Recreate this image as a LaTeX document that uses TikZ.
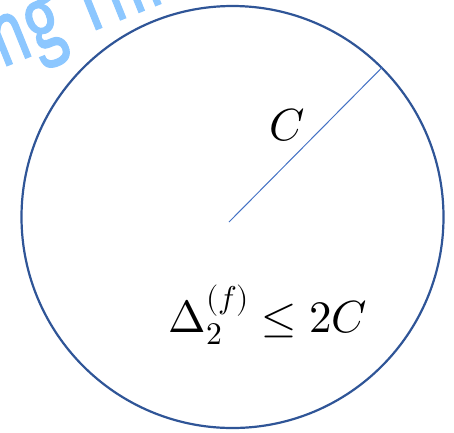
\documentclass[tikz,border=0pt]{standalone}
\usepackage{fontspec}
\usepackage{unicode-math}
\setmathfont{Latin Modern Math}
\newfontfamily\handfont[FakeBold=1.5]{Fira Sans}
\definecolor{circblue}{RGB}{47,85,151}
\definecolor{radblue}{RGB}{68,114,196}
\definecolor{handblue}{RGB}{140,199,255}
\begin{document}
\begin{tikzpicture}[x=1pt,y=-1pt,
  rim/.style={draw=circblue,line width=2.2pt},
  radius line/.style={draw=radblue,line width=1pt},
  mathlabel/.style={inner sep=0pt,font=\fontsize{45}{52}\selectfont},
  annot/.style={inner sep=0pt,text=handblue,font=\handfont\fontsize{90}{96}\selectfont}]
\useasboundingbox (0,0) rectangle (454,432);
\clip (0,0) rectangle (454,432);
\node[annot,anchor=base west,rotate=22] (hand) at (-16,75) {\scalebox{0.72}[1]{ing Thr}};
\coordinate (O) at (232.5,217);
\node[rim,circle,minimum size=422pt,inner sep=0pt] (circ) at (O) {};
\coordinate (start) at (229,222);
\draw[radius line] (start) -- (circ.45);
\node[mathlabel] (clabel) at (287,125) {$C$};
\node[mathlabel,anchor=base] (bound) at (268,332) {$\Delta_2^{(f)} \leq 2C$};
\end{tikzpicture}
\end{document}
